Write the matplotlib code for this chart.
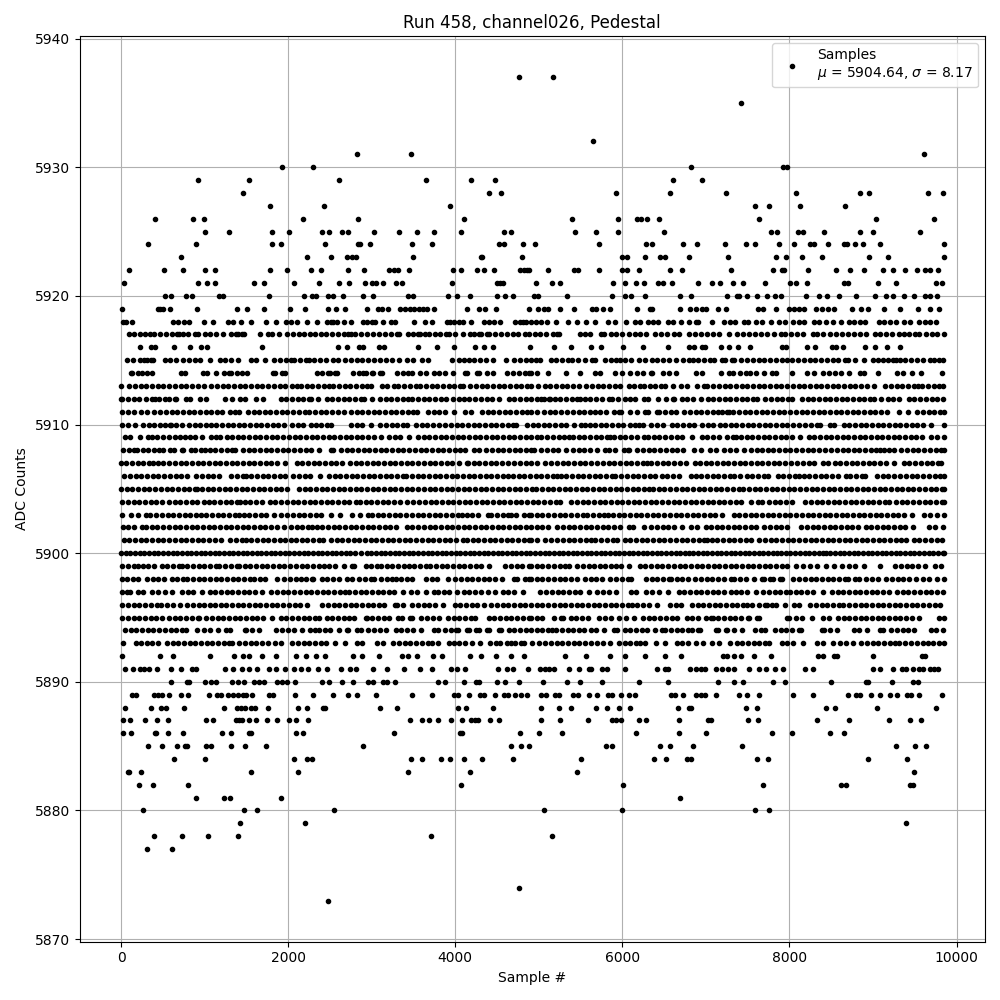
import matplotlib
matplotlib.use('Agg')
import matplotlib.pyplot as plt

# Номера отсчётов для каждого уровня ADC
s5937 = [4760, 5172]
s5935 = [7416]
s5932 = [5652]
s5931 = [2828, 3476, 9612]
s5930 = [1928, 2300, 6816, 7920, 7968]
s5929 = [920, 1532, 2612, 3644, 4184, 4472, 6600, 6948]
s5928 = [1460, 4400, 4544, 5928, 6564, 7236, 8076, 8844, 8952, 9660, 9840]
s5927 = [1784, 2432, 3932, 7584, 7752, 8124, 8664]
s5926 = [404, 860, 992, 2180, 2840, 4100, 5400, 5952, 6180, 6228, 6300, 6444, 7632, 9036, 9732]
s5925 = [1004, 1292, 1808, 2012, 2408, 2492, 2648, 2720, 3032, 3332, 3536, 3740, 4064, 4580, 4664, 5436, 5688, 5952, 6504, 7776, 7848, 8100, 8160, 8412, 8844, 9000, 9564]
s5924 = [320, 896, 1808, 1916, 2444, 2840, 2860, 2984, 3488, 3716, 4520, 4580, 4808, 4956, 5724, 6288, 6360, 6720, 6888, 7224, 7476, 7584, 7872, 8052, 8244, 8292, 8460, 8652, 8692, 8784, 8880, 9084, 9852]
s5923 = [716, 2228, 2516, 2708, 2768, 2816, 3500, 4304, 4324, 4796, 6000, 6052, 6276, 6456, 6516, 6792, 7260, 7836, 7956, 8148, 8388, 8952, 9180, 9850]
s5922 = [92, 512, 740, 1004, 1124, 1784, 1988, 2276, 2396, 2720, 2912, 3212, 3272, 3312, 3452, 3968, 4064, 4256, 4340, 4460, 4772, 4820, 4860, 4884, 5112, 5424, 5472, 5724, 6000, 6052, 6204, 6564, 6708, 7296, 7800, 7908, 7940, 8220, 8556, 8724, 8892, 9120, 9240, 9384, 9528, 9624, 9684, 9780]
s5921 = [32, 920, 1028, 1124, 1592, 1712, 2072, 2372, 2612, 2732, 2924, 3008, 3056, 3140, 3296, 3368, 3956, 4496, 4540, 4572, 4968, 5160, 5256, 5892, 6036, 6168, 6264, 6432, 6492, 6592, 6900, 7068, 7164, 7320, 7440, 7704, 8004, 8076, 8204, 8652, 8700, 9060, 9276, 9756, 9828]
s5920 = [524, 596, 776, 848, 1172, 1220, 1772, 2192, 2288, 2336, 2480, 2540, 2660, 2900, 3020, 3440, 3500, 3908, 4016, 4172, 4496, 4592, 4688, 4944, 4992, 5340, 5880, 6036, 6108, 6276, 6684, 6816, 7248, 7368, 7400, 7488, 7608, 7728, 7824, 7896, 8196, 8352, 8448, 8592, 8796, 9020, 9156, 9240, 9372, 9492, 9624, 9684, 9768]
s5919 = [8, 440, 472, 500, 584, 908, 1388, 1508, 1712, 2024, 2204, 2480, 2576, 2684, 2948, 3080, 3120, 3200, 3344, 3404, 3464, 3512, 3560, 3608, 3656, 3740, 4136, 4280, 4352, 4484, 4884, 4992, 5064, 5112, 5256, 5424, 5640, 5688, 5772, 5856, 6180, 6336, 6360, 6684, 6804, 6876, 6948, 6996, 7140, 7236, 7620, 7680, 7836, 7992, 8052, 8112, 8172, 8316, 8388, 8460, 8532, 8748, 8856, 8940, 9132, 9324, 9540, 9684, 9792]
s5918 = [20, 60, 128, 620, 680, 752, 812, 992, 1100, 1280, 1340, 1436, 1556, 1736, 1856, 1976, 2036, 2100, 2228, 2348, 2460, 2516, 2540, 2588, 2668, 2756, 2900, 2940, 3000, 3044, 3140, 3236, 3284, 3512, 3632, 3716, 3896, 3940, 3988, 4040, 4088, 4184, 4340, 4400, 4460, 4532, 4712, 4772, 4812, 4852, 4912, 4972, 5032, 5100, 5208, 5352, 5452, 5564, 5676, 5832, 5912, 6048, 6148, 6212, 6312, 6372, 6432, 6552, 6600, 6696, 6792, 6876, 6904, 7076, 7212, 7284, 7352, 7452, 7500, 7596, 7668, 7776, 7872, 7944, 8044, 8112, 8172, 8292, 8352, 8432, 8520, 8612, 8712, 8772, 8844, 8904, 9072, 9132, 9204, 9272, 9372, 9444, 9552, 9624, 9684, 9752]
s5917 = [100, 160, 224, 284, 344, 400, 472, 540, 608, 664, 692, 736, 800, 880, 916, 1000, 1068, 1136, 1224, 1320, 1372, 1404, 1448, 1472, 1668, 1756, 1808, 1896, 1992, 2060, 2128, 2188, 2260, 2320, 2388, 2452, 2520, 2596, 2668, 2720, 2752, 2800, 2872, 2940, 3016, 3084, 3156, 3228, 3300, 3330, 3432, 3496, 3552, 3576, 3632, 3688, 3752, 3816, 3884, 3928, 4000, 4096, 4180, 4228, 4280, 4308, 4380, 4408, 4480, 4548, 4620, 4692, 4756, 4832, 4888, 4960, 5020, 5084, 5164, 5220, 5240, 5488, 5552, 5616, 5740, 5776, 5860, 5928, 5996, 6076, 6148, 6216, 6284, 6388, 6468, 6540, 6612, 6680, 6796, 6868, 6940, 7012, 7088, 7160, 7276, 7368, 7440, 7512, 7592, 7664, 7736, 7820, 7896, 7948, 8020, 8092, 8160, 8284, 8332, 8404, 8480, 8556, 8628, 8700, 8772, 8840, 8916, 9020, 9088, 9160, 9232, 9316, 9368, 9436, 9500, 9556, 9628, 9700, 9768, 9850]
s5916 = [224, 364, 404, 636, 828, 952, 1024, 1692, 2600, 2704, 2844, 2896, 3084, 3144, 3552, 3780, 3984, 4232, 4344, 4452, 4892, 5180, 5388, 5628, 5748, 6012, 6252, 6552, 6792, 6852, 6952, 6992, 7176, 7272, 7380, 7524, 7912, 7964, 8208, 8304, 8512, 8552, 8640, 8904, 9024, 9168, 9324]
s5915 = [72, 140, 228, 280, 312, 360, 380, 520, 590, 660, 740, 808, 880, 950, 1068, 1180, 1250, 1320, 1396, 1552, 1620, 1728, 1828, 1900, 1970, 2030, 2072, 2140, 2210, 2250, 2312, 2380, 2450, 2536, 2600, 2680, 2750, 2820, 2888, 2960, 3030, 3100, 3170, 3240, 3330, 3420, 3490, 3600, 3668, 3960, 4048, 4100, 4160, 4224, 4296, 4370, 4448, 4612, 4708, 4776, 4850, 4908, 4970, 5016, 5140, 5210, 5280, 5350, 5396, 5468, 5556, 5636, 5676, 5796, 5860, 5920, 5976, 6028, 6100, 6196, 6276, 6350, 6420, 6490, 6560, 6640, 6720, 6796, 6840, 6910, 6980, 7050, 7096, 7196, 7228, 7308, 7336, 7420, 7490, 7560, 7630, 7700, 7770, 7840, 7910, 7976, 8028, 8100, 8170, 8240, 8310, 8380, 8450, 8520, 8576, 8668, 8696, 8780, 8896, 8996, 9060, 9124, 9180, 9236, 9276, 9324, 9388, 9456, 9528, 9596, 9676, 9724, 9788, 9836]
s5914 = [120, 136, 208, 248, 312, 368, 712, 768, 980, 1028, 1132, 1228, 1288, 1316, 1392, 1450, 1508, 1816, 1840, 1932, 1968, 2340, 2408, 2480, 2496, 2560, 2588, 2780, 2848, 2900, 2928, 3000, 3020, 3100, 3120, 3300, 3370, 3440, 3488, 3580, 3650, 3748, 3808, 3880, 3968, 4120, 4136, 4260, 4288, 4380, 4448, 4620, 4690, 4760, 4830, 4888, 4908, 4976, 5112, 5328, 5496, 5668, 5736, 5908, 5996, 6088, 6176, 6252, 6340, 6356, 6488, 6556, 6644, 6876, 6948, 7184, 7276, 7324, 7412, 7484, 7532, 7596, 7696, 7788, 7836, 8028, 8212, 8288, 8396, 8468, 8540, 8616, 8712, 8848, 8888, 9064, 9288, 9356, 9468, 9576, 9820]
s5913 = [0, 100, 168, 236, 304, 372, 440, 508, 576, 644, 712, 780, 848, 916, 988, 1080, 1148, 1216, 1284, 1352, 1420, 1488, 1556, 1624, 1692, 1760, 1828, 1908, 1960, 2040, 2108, 2152, 2220, 2288, 2356, 2424, 2488, 2540, 2608, 2676, 2744, 2812, 2888, 2940, 2988, 3120, 3188, 3268, 3320, 3388, 3456, 3528, 3580, 3648, 3716, 3784, 3852, 3920, 3988, 4056, 4090, 4180, 4248, 4316, 4384, 4452, 4520, 4588, 4656, 4724, 4792, 4860, 4908, 4996, 5068, 5136, 5204, 5272, 5340, 5408, 5476, 5568, 5636, 5704, 5772, 5840, 5908, 5976, 6076, 6144, 6212, 6256, 6328, 6396, 6464, 6516, 6608, 6696, 6768, 6896, 6980, 7016, 7088, 7156, 7224, 7292, 7360, 7428, 7496, 7564, 7632, 7700, 7768, 7836, 7904, 7972, 8040, 8108, 8176, 8244, 8312, 8380, 8448, 8516, 8584, 8652, 8720, 8788, 8856, 8924, 9016, 9148, 9216, 9284, 9352, 9420, 9488, 9536, 9588, 9656, 9724, 9792, 9840]
s5912 = [0, 12, 88, 156, 216, 300, 368, 408, 460, 528, 568, 640, 656, 780, 828, 948, 1016, 1248, 1328, 1420, 1480, 1620, 1696, 1912, 1980, 2048, 2112, 2176, 2248, 2268, 2352, 2468, 2528, 2596, 2664, 2732, 2800, 2868, 2908, 3000, 3096, 3168, 3236, 3304, 3372, 3440, 3480, 3552, 3620, 3688, 3756, 3824, 3892, 3968, 4040, 4108, 4168, 4240, 4308, 4376, 4444, 4520, 4640, 4708, 4776, 4844, 4908, 4984, 5028, 5056, 5116, 5136, 5188, 5256, 5324, 5392, 5460, 5496, 5548, 5616, 5684, 5752, 5836, 5880, 5948, 6036, 6088, 6156, 6256, 6312, 6428, 6524, 6608, 6616, 6708, 6776, 6844, 6936, 7020, 7088, 7156, 7224, 7292, 7360, 7428, 7496, 7564, 7616, 7704, 7780, 7848, 7916, 7984, 8036, 8148, 8216, 8284, 8352, 8420, 8488, 8556, 8624, 8692, 8760, 8828, 8896, 8964, 9016, 9092, 9180, 9236, 9312, 9428, 9496, 9564, 9632, 9700, 9768, 9836]
s5911 = [16, 84, 160, 240, 308, 400, 468, 536, 604, 672, 740, 808, 876, 944, 1012, 1080, 1148, 1208, 1300, 1368, 1416, 1520, 1588, 1648, 1720, 1788, 1856, 1924, 1992, 2060, 2128, 2196, 2248, 2320, 2388, 2456, 2524, 2592, 2668, 2752, 2820, 2888, 2956, 3024, 3092, 3160, 3228, 3296, 3364, 3432, 3500, 3540, 3672, 3740, 3808, 3876, 3988, 4120, 4188, 4320, 4388, 4456, 4524, 4592, 4660, 4728, 4796, 4864, 4908, 4976, 5056, 5128, 5196, 5268, 5336, 5408, 5476, 5544, 5616, 5668, 5736, 5804, 5896, 5956, 5988, 6088, 6176, 6276, 6308, 6420, 6444, 6508, 6576, 6636, 6740, 6808, 6876, 6944, 7012, 7080, 7148, 7188, 7248, 7276, 7328, 7396, 7464, 7532, 7600, 7668, 7736, 7804, 7872, 7940, 8008, 8076, 8144, 8212, 8280, 8348, 8416, 8484, 8552, 8620, 8688, 8756, 8824, 8892, 8960, 9028, 9096, 9164, 9308, 9416, 9528, 9596, 9664, 9732, 9800, 9850]
s5910 = [16, 84, 168, 268, 336, 400, 468, 528, 580, 600, 660, 728, 808, 880, 948, 1016, 1080, 1140, 1208, 1276, 1336, 1408, 1476, 1544, 1612, 1680, 1748, 1816, 1884, 1952, 2048, 2112, 2180, 2268, 2328, 2396, 2464, 2508, 2752, 2820, 2888, 2988, 3104, 3172, 3240, 3308, 3376, 3428, 3528, 3596, 3664, 3732, 3808, 3880, 3948, 4016, 4084, 4152, 4220, 4288, 4356, 4424, 4492, 4560, 4628, 4696, 4728, 4860, 4928, 4988, 5056, 5124, 5192, 5260, 5328, 5416, 5508, 5548, 5608, 5676, 5740, 5808, 5876, 5944, 6012, 6096, 6156, 6196, 6248, 6348, 6420, 6484, 6588, 6656, 6724, 6792, 6860, 6956, 7020, 7088, 7164, 7228, 7296, 7364, 7432, 7500, 7568, 7636, 7704, 7772, 7840, 7908, 7976, 8044, 8116, 8188, 8256, 8324, 8368, 8488, 8536, 8648, 8716, 8784, 8852, 8920, 8988, 9056, 9124, 9192, 9260, 9328, 9396, 9464, 9532, 9600, 9696, 9850]
s5909 = [48, 108, 232, 320, 368, 436, 504, 572, 640, 708, 760, 820, 888, 968, 1072, 1140, 1188, 1264, 1328, 1396, 1464, 1532, 1600, 1668, 1736, 1804, 1872, 1940, 2008, 2076, 2144, 2212, 2280, 2348, 2416, 2484, 2552, 2620, 2688, 2756, 2828, 2888, 2956, 3024, 3108, 3208, 3276, 3344, 3448, 3552, 3620, 3688, 3756, 3824, 3892, 3960, 4028, 4096, 4164, 4232, 4300, 4368, 4436, 4504, 4572, 4640, 4708, 4776, 4844, 4908, 4976, 5028, 5100, 5168, 5236, 5304, 5356, 5408, 5476, 5544, 5612, 5680, 5748, 5816, 5856, 5900, 5968, 6036, 6104, 6172, 6256, 6308, 6376, 6444, 6512, 6580, 6648, 6716, 6828, 6948, 7016, 7084, 7152, 7256, 7328, 7356, 7420, 7488, 7556, 7624, 7692, 7760, 7828, 7896, 7964, 8032, 8128, 8228, 8296, 8364, 8432, 8500, 8568, 8636, 8704, 8772, 8840, 8908, 8976, 9044, 9112, 9180, 9248, 9316, 9384, 9452, 9520, 9588, 9696, 9768, 9850]
s5908 = [20, 96, 160, 188, 260, 328, 392, 460, 508, 580, 628, 728, 736, 832, 888, 952, 1008, 1060, 1128, 1196, 1264, 1332, 1368, 1460, 1528, 1596, 1664, 1732, 1800, 1868, 1936, 2004, 2072, 2140, 2208, 2268, 2368, 2512, 2536, 2632, 2700, 2768, 2836, 2904, 2972, 3040, 3108, 3176, 3244, 3312, 3380, 3448, 3516, 3584, 3652, 3720, 3788, 3856, 3924, 3992, 4060, 4120, 4220, 4288, 4368, 4440, 4508, 4576, 4644, 4712, 4780, 4848, 4908, 4948, 5028, 5096, 5164, 5232, 5324, 5408, 5476, 5544, 5612, 5696, 5796, 5836, 5908, 6016, 6068, 6084, 6180, 6248, 6316, 6384, 6452, 6520, 6588, 6656, 6724, 6856, 6940, 7048, 7116, 7216, 7288, 7356, 7456, 7540, 7608, 7676, 7740, 7808, 7876, 7944, 8012, 8080, 8148, 8216, 8284, 8352, 8420, 8496, 8568, 8636, 8700, 8768, 8836, 8904, 8972, 9036, 9084, 9128, 9196, 9256, 9340, 9408, 9476, 9544, 9612, 9680, 9748, 9816, 9850]
s5907 = [0, 64, 132, 200, 268, 336, 388, 440, 508, 576, 644, 712, 780, 848, 916, 984, 1052, 1120, 1188, 1256, 1324, 1392, 1460, 1528, 1596, 1664, 1732, 1800, 1868, 1968, 2100, 2168, 2236, 2304, 2372, 2440, 2508, 2576, 2648, 2740, 2808, 2876, 2944, 3012, 3080, 3148, 3216, 3284, 3352, 3420, 3488, 3556, 3624, 3692, 3760, 3828, 3896, 3964, 4048, 4140, 4148, 4220, 4288, 4356, 4424, 4492, 4560, 4628, 4708, 4780, 4848, 4908, 4976, 5076, 5148, 5216, 5284, 5352, 5420, 5488, 5556, 5624, 5696, 5768, 5836, 5904, 5972, 6040, 6108, 6176, 6244, 6296, 6348, 6416, 6484, 6552, 6620, 6688, 6756, 6868, 6928, 6996, 7064, 7132, 7200, 7268, 7336, 7404, 7472, 7540, 7608, 7676, 7744, 7812, 7880, 7948, 8016, 8084, 8156, 8228, 8296, 8404, 8464, 8540, 8608, 8676, 8744, 8812, 8880, 8948, 9016, 9084, 9152, 9256, 9368, 9436, 9504, 9572, 9640, 9708, 9776, 9816]
s5906 = [40, 108, 176, 244, 312, 380, 448, 516, 584, 652, 720, 788, 900, 968, 1036, 1104, 1176, 1320, 1388, 1456, 1496, 1560, 1628, 1696, 1764, 1832, 1900, 1968, 2060, 2128, 2196, 2264, 2376, 2488, 2556, 2624, 2692, 2760, 2828, 2896, 2964, 3032, 3100, 3168, 3236, 3304, 3372, 3408, 3480, 3548, 3616, 3684, 3752, 3820, 3888, 3956, 4024, 4092, 4160, 4228, 4296, 4364, 4432, 4500, 4568, 4636, 4688, 4760, 4828, 4896, 4964, 5032, 5100, 5168, 5216, 5260, 5328, 5396, 5464, 5532, 5600, 5668, 5736, 5804, 5872, 5916, 5988, 6056, 6124, 6192, 6260, 6328, 6396, 6476, 6540, 6608, 6676, 6816, 6876, 6944, 7012, 7080, 7148, 7216, 7284, 7336, 7408, 7488, 7556, 7624, 7692, 7748, 7860, 7928, 7996, 8064, 8108, 8168, 8236, 8304, 8372, 8440, 8508, 8576, 8676, 8728, 8796, 8864, 8908, 9048, 9116, 9184, 9252, 9324, 9396, 9464, 9532, 9600, 9668, 9736, 9804, 9850]
s5905 = [0, 68, 136, 204, 272, 340, 408, 476, 544, 612, 680, 748, 816, 884, 908, 968, 1036, 1104, 1172, 1240, 1308, 1376, 1444, 1512, 1580, 1648, 1716, 1784, 1852, 1920, 1988, 2128, 2196, 2264, 2332, 2400, 2468, 2536, 2604, 2672, 2740, 2808, 2876, 2944, 3012, 3080, 3148, 3216, 3284, 3352, 3420, 3488, 3556, 3624, 3692, 3760, 3828, 3896, 3964, 4032, 4100, 4168, 4236, 4304, 4372, 4440, 4508, 4576, 4644, 4712, 4780, 4848, 4916, 4968, 5036, 5104, 5172, 5240, 5308, 5376, 5444, 5512, 5580, 5648, 5716, 5784, 5852, 5920, 5988, 6056, 6124, 6192, 6260, 6316, 6368, 6436, 6504, 6572, 6640, 6708, 6776, 6844, 6912, 6980, 7048, 7116, 7184, 7252, 7320, 7396, 7448, 7516, 7584, 7652, 7720, 7788, 7856, 7924, 7992, 8060, 8128, 8196, 8264, 8332, 8400, 8468, 8536, 8604, 8672, 8740, 8808, 8876, 8944, 9012, 9080, 9148, 9216, 9284, 9348, 9416, 9484, 9552, 9620, 9688, 9756, 9824, 9850]
s5904 = [16, 84, 152, 220, 288, 356, 424, 492, 576, 640, 708, 776, 844, 912, 988, 1048, 1116, 1184, 1252, 1320, 1388, 1428, 1480, 1548, 1616, 1688, 1780, 1848, 1916, 1984, 2052, 2120, 2188, 2256, 2324, 2392, 2460, 2528, 2596, 2664, 2732, 2808, 2860, 2928, 2996, 3064, 3132, 3200, 3268, 3336, 3428, 3500, 3568, 3636, 3704, 3772, 3840, 3908, 3976, 4044, 4112, 4180, 4248, 4316, 4384, 4452, 4520, 4588, 4656, 4724, 4792, 4860, 4928, 4996, 5064, 5132, 5200, 5256, 5388, 5456, 5524, 5592, 5660, 5728, 5796, 5864, 5932, 6000, 6068, 6136, 6204, 6272, 6340, 6408, 6476, 6544, 6612, 6680, 6748, 6816, 6884, 6952, 7020, 7088, 7156, 7216, 7288, 7356, 7424, 7536, 7628, 7668, 7756, 7824, 7892, 7960, 8036, 8188, 8256, 8324, 8392, 8460, 8528, 8596, 8664, 8732, 8800, 8868, 8936, 9004, 9072, 9140, 9196, 9276, 9344, 9412, 9480, 9548, 9616, 9684, 9752, 9820, 9850]
s5903 = [16, 120, 200, 296, 352, 420, 488, 556, 624, 692, 760, 828, 896, 952, 1020, 1088, 1156, 1224, 1292, 1360, 1408, 1468, 1536, 1604, 1672, 1740, 1828, 1920, 1988, 2056, 2124, 2192, 2260, 2328, 2392, 2508, 2620, 2760, 2860, 2960, 3008, 3072, 3140, 3208, 3276, 3344, 3412, 3480, 3548, 3616, 3684, 3752, 3820, 3888, 3956, 4028, 4080, 4136, 4200, 4268, 4388, 4432, 4500, 4568, 4636, 4668, 4732, 4820, 4888, 4908, 4976, 5044, 5112, 5180, 5248, 5316, 5384, 5452, 5524, 5580, 5648, 5716, 5784, 5828, 5888, 5956, 6024, 6092, 6160, 6228, 6296, 6364, 6432, 6500, 6568, 6636, 6704, 6772, 6840, 6908, 6976, 7044, 7112, 7196, 7340, 7396, 7468, 7536, 7604, 7672, 7740, 7808, 7876, 7944, 8012, 8080, 8148, 8216, 8284, 8352, 8420, 8488, 8556, 8624, 8692, 8760, 8828, 8896, 8964, 9032, 9100, 9168, 9236, 9304, 9372, 9468, 9608, 9676, 9768, 9850]
s5902 = [20, 88, 156, 248, 300, 368, 436, 504, 572, 640, 708, 776, 844, 912, 980, 1048, 1116, 1184, 1252, 1320, 1388, 1456, 1524, 1592, 1660, 1728, 1796, 1864, 1948, 2032, 2100, 2168, 2236, 2288, 2340, 2408, 2476, 2544, 2612, 2680, 2748, 2816, 2884, 2952, 3020, 3088, 3156, 3224, 3296, 3420, 3488, 3556, 3624, 3692, 3760, 3828, 3896, 3964, 4032, 4100, 4168, 4236, 4304, 4372, 4440, 4508, 4576, 4644, 4712, 4780, 4848, 4908, 4976, 5044, 5112, 5216, 5288, 5356, 5424, 5492, 5560, 5628, 5696, 5764, 5832, 5900, 5968, 6076, 6128, 6256, 6348, 6416, 6484, 6552, 6620, 6716, 6820, 6888, 6996, 7060, 7128, 7196, 7264, 7332, 7400, 7468, 7536, 7604, 7696, 7768, 7836, 7904, 7976, 8140, 8208, 8276, 8344, 8412, 8480, 8548, 8616, 8684, 8752, 8816, 8920, 8976, 9048, 9116, 9184, 9252, 9320, 9388, 9476, 9668, 9736, 9836]
s5901 = [40, 96, 168, 236, 304, 372, 440, 508, 576, 644, 712, 780, 848, 916, 984, 1052, 1120, 1200, 1308, 1376, 1444, 1496, 1560, 1628, 1696, 1764, 1832, 1900, 1968, 2036, 2096, 2160, 2228, 2296, 2364, 2416, 2508, 2580, 2648, 2716, 2784, 2852, 2920, 2988, 3056, 3124, 3192, 3260, 3328, 3396, 3464, 3532, 3600, 3668, 3736, 3804, 3872, 3940, 4008, 4088, 4140, 4208, 4276, 4344, 4412, 4480, 4548, 4616, 4684, 4752, 4820, 4888, 4908, 4976, 5068, 5140, 5220, 5288, 5356, 5424, 5492, 5560, 5628, 5676, 5748, 5816, 5884, 5940, 6028, 6096, 6164, 6232, 6300, 6368, 6436, 6504, 6572, 6640, 6708, 6776, 6844, 6912, 6980, 7016, 7068, 7136, 7204, 7272, 7340, 7408, 7476, 7544, 7636, 7708, 7776, 7844, 7912, 7980, 8048, 8116, 8184, 8252, 8320, 8388, 8456, 8524, 8592, 8660, 8728, 8796, 8864, 8932, 9000, 9068, 9136, 9204, 9272, 9340, 9396, 9488, 9556, 9624, 9692, 9760, 9828]
s5900 = [0, 56, 112, 168, 224, 280, 336, 392, 448, 504, 560, 616, 672, 728, 784, 840, 896, 952, 1008, 1064, 1120, 1176, 1232, 1288, 1344, 1400, 1456, 1512, 1568, 1624, 1680, 1736, 1792, 1848, 1904, 1960, 2016, 2072, 2128, 2184, 2240, 2296, 2352, 2408, 2464, 2520, 2576, 2632, 2688, 2744, 2800, 2868, 2940, 2996, 3052, 3108, 3164, 3220, 3276, 3332, 3388, 3444, 3500, 3556, 3612, 3668, 3724, 3780, 3836, 3892, 3948, 4004, 4060, 4116, 4172, 4228, 4284, 4340, 4396, 4452, 4508, 4564, 4620, 4676, 4732, 4788, 4844, 4900, 4956, 5012, 5068, 5124, 5180, 5236, 5292, 5348, 5404, 5460, 5516, 5572, 5628, 5684, 5740, 5796, 5852, 5908, 5964, 6020, 6076, 6132, 6188, 6244, 6300, 6356, 6412, 6468, 6524, 6580, 6636, 6692, 6748, 6796, 6848, 6904, 6960, 7016, 7072, 7128, 7184, 7240, 7296, 7352, 7408, 7464, 7520, 7576, 7632, 7688, 7744, 7800, 7856, 7896, 7956, 8012, 8068, 8124, 8180, 8236, 8292, 8348, 8404, 8436, 8488, 8544, 8600, 8656, 8712, 8768, 8824, 8880, 8936, 8992, 9048, 9104, 9160, 9216, 9272, 9328, 9384, 9440, 9496, 9552, 9608, 9664, 9720, 9776, 9832, 9850]
s5899 = [16, 84, 152, 200, 260, 328, 396, 488, 552, 620, 688, 728, 792, 860, 928, 996, 1064, 1132, 1168, 1248, 1316, 1384, 1416, 1480, 1548, 1616, 1684, 1752, 1820, 1888, 1956, 2024, 2092, 2160, 2228, 2296, 2364, 2432, 2488, 2560, 2668, 2768, 2788, 2928, 2996, 3064, 3108, 3180, 3248, 3316, 3384, 3448, 3512, 3580, 3648, 3696, 3768, 3836, 3904, 3972, 4040, 4108, 4176, 4244, 4312, 4408, 4600, 4668, 4736, 4804, 4888, 4908, 4976, 5044, 5112, 5180, 5248, 5316, 5356, 5460, 5528, 5596, 5664, 5736, 5796, 5864, 5924, 5988, 6084, 6208, 6276, 6344, 6412, 6480, 6548, 6616, 6684, 6752, 6820, 6888, 6956, 7024, 7092, 7160, 7228, 7296, 7364, 7432, 7500, 7568, 7636, 7704, 7772, 7840, 7908, 7976, 8076, 8164, 8244, 8332, 8436, 8536, 8628, 8708, 8780, 8896, 9084, 9268, 9336, 9404, 9472, 9536, 9620, 9740, 9816]
s5898 = [16, 68, 140, 208, 308, 380, 448, 516, 608, 672, 740, 788, 860, 928, 996, 1064, 1132, 1200, 1268, 1336, 1404, 1472, 1540, 1588, 1660, 1728, 1868, 1952, 2020, 2088, 2156, 2208, 2280, 2296, 2400, 2468, 2536, 2608, 2700, 2768, 2848, 2920, 2988, 3028, 3112, 3180, 3248, 3288, 3352, 3420, 3480, 3648, 3716, 3784, 3908, 4000, 4068, 4136, 4204, 4272, 4340, 4408, 4476, 4560, 4700, 4736, 4840, 4888, 4908, 4976, 5044, 5112, 5180, 5248, 5316, 5384, 5452, 5556, 5620, 5688, 5756, 5856, 5928, 5996, 6064, 6108, 6288, 6356, 6420, 6484, 6556, 6576, 6648, 6716, 6784, 6868, 6940, 7008, 7076, 7144, 7212, 7296, 7340, 7408, 7476, 7576, 7668, 7696, 7772, 7804, 7888, 7908, 8048, 8116, 8184, 8252, 8320, 8388, 8456, 8524, 8592, 8660, 8696, 8780, 8836, 8920, 8988, 9056, 9156, 9228, 9296, 9364, 9432, 9516, 9596, 9664, 9764, 9848]
s5897 = [8, 72, 108, 200, 268, 368, 448, 520, 608, 728, 796, 864, 968, 1060, 1128, 1196, 1264, 1332, 1400, 1468, 1536, 1604, 1688, 1800, 1868, 1936, 2004, 2072, 2140, 2208, 2276, 2344, 2412, 2480, 2548, 2616, 2684, 2728, 2800, 2868, 2936, 3004, 3072, 3140, 3208, 3268, 3374, 3472, 3540, 3648, 3740, 3788, 3860, 3928, 4016, 4100, 4168, 4236, 4308, 4388, 4470, 4568, 4636, 4704, 4808, 5020, 5088, 5156, 5224, 5292, 5360, 5428, 5496, 5596, 5700, 5768, 5836, 5924, 6100, 6164, 6288, 6356, 6444, 6542, 6676, 6736, 6808, 6876, 6944, 7012, 7080, 7148, 7216, 7296, 7356, 7424, 7492, 7596, 7688, 7756, 7824, 7892, 7964, 8004, 8072, 8140, 8208, 8276, 8396, 8508, 8576, 8644, 8712, 8780, 8848, 8916, 8984, 9052, 9116, 9192, 9288, 9356, 9424, 9492, 9560, 9628, 9696, 9764, 9832]
s5896 = [16, 84, 152, 220, 288, 356, 428, 480, 548, 616, 708, 792, 860, 928, 996, 1068, 1124, 1192, 1260, 1328, 1396, 1464, 1532, 1600, 1668, 1736, 1804, 1872, 1940, 2008, 2076, 2144, 2228, 2408, 2476, 2544, 2612, 2680, 2748, 2816, 2888, 2952, 3020, 3088, 3148, 3280, 3308, 3380, 3488, 3552, 3620, 3688, 3756, 3848, 3992, 4060, 4128, 4196, 4264, 4348, 4432, 4500, 4568, 4636, 4704, 4772, 4840, 4908, 4976, 5044, 5112, 5180, 5248, 5316, 5384, 5452, 5520, 5588, 5656, 5724, 5792, 5860, 5928, 5996, 6064, 6116, 6180, 6248, 6316, 6416, 6568, 6636, 6704, 6836, 6900, 6968, 7036, 7104, 7172, 7240, 7308, 7376, 7444, 7496, 7556, 7636, 7708, 7736, 7788, 7844, 7948, 8056, 8112, 8248, 8316, 8384, 8452, 8520, 8588, 8636, 8716, 8784, 8852, 8920, 8988, 9056, 9124, 9192, 9260, 9328, 9396, 9464, 9532, 9600, 9668, 9736, 9796]
s5895 = [16, 84, 152, 220, 288, 356, 424, 492, 568, 640, 708, 776, 848, 920, 928, 1020, 1088, 1156, 1224, 1292, 1360, 1428, 1496, 1564, 1632, 1700, 1808, 1912, 1980, 2048, 2116, 2184, 2252, 2320, 2368, 2460, 2528, 2596, 2664, 2732, 2788, 2928, 2948, 3008, 3076, 3144, 3208, 3320, 3368, 3460, 3488, 3592, 3660, 3728, 3808, 3912, 3980, 4048, 4116, 4184, 4240, 4400, 4468, 4536, 4604, 4672, 4740, 4808, 4888, 4908, 4976, 5044, 5176, 5260, 5292, 5380, 5448, 5516, 5584, 5716, 5796, 5864, 5956, 6040, 6136, 6248, 6316, 6384, 6452, 6520, 6588, 6656, 6768, 6836, 6904, 6996, 7060, 7088, 7148, 7216, 7284, 7352, 7416, 7500, 7516, 7608, 7636, 7968, 7996, 8080, 8148, 8268, 8400, 8468, 8580, 8648, 8716, 8784, 8852, 8920, 8988, 9056, 9124, 9192, 9260, 9328, 9396, 9464, 9556, 9788, 9850]
s5894 = [48, 116, 184, 252, 320, 388, 456, 524, 592, 660, 728, 776, 912, 988, 1060, 1160, 1260, 1308, 1480, 1496, 1568, 1648, 1860, 1928, 1996, 2064, 2160, 2260, 2320, 2368, 2436, 2504, 2608, 2700, 2720, 2820, 2868, 2960, 3028, 3096, 3168, 3288, 3356, 3424, 3492, 3588, 3740, 3788, 3880, 3948, 4008, 4028, 4140, 4168, 4248, 4288, 4380, 4408, 4520, 4548, 4640, 4708, 4776, 4844, 4908, 4976, 5044, 5112, 5156, 5208, 5276, 5344, 5412, 5480, 5536, 5620, 5688, 5776, 5900, 5936, 6028, 6096, 6164, 6232, 6300, 6396, 6476, 6508, 6580, 6648, 6716, 6784, 6836, 6900, 6924, 7116, 7148, 7236, 7256, 7340, 7436, 7588, 7656, 7708, 7828, 7896, 7964, 8036, 8108, 8136, 8388, 8416, 8488, 8564, 8768, 8836, 8924, 9088, 9116, 9220, 9288, 9356, 9424, 9496, 9688, 9756, 9836]
s5893 = [20, 176, 244, 308, 376, 444, 544, 616, 684, 752, 820, 888, 956, 1024, 1092, 1160, 1228, 1296, 1324, 1416, 1484, 1552, 1620, 1688, 1756, 1844, 1916, 2044, 2116, 2184, 2252, 2320, 2388, 2456, 2564, 2676, 2824, 2880, 3068, 3140, 3256, 3324, 3396, 3464, 3532, 3600, 3668, 3724, 3796, 3924, 3988, 4044, 4116, 4196, 4300, 4416, 4484, 4536, 4616, 4664, 4716, 4784, 4824, 4924, 5008, 5076, 5144, 5212, 5280, 5348, 5416, 5484, 5552, 5620, 5696, 5764, 5848, 5956, 6028, 6096, 6164, 6216, 6276, 6408, 6516, 6648, 6716, 6784, 6876, 6968, 7068, 7156, 7284, 7368, 7436, 7504, 7572, 7640, 7708, 7756, 7908, 7976, 8044, 8156, 8328, 8396, 8516, 8608, 8676, 8756, 8860, 8928, 8996, 9064, 9132, 9200, 9268, 9316, 9388, 9456, 9524, 9592, 9656, 9716, 9784, 9850]
s5892 = [8, 464, 620, 1064, 1352, 1460, 1532, 1688, 1852, 2096, 2216, 2336, 2444, 2780, 2888, 3092, 3368, 3440, 3536, 3728, 3836, 4172, 4304, 4484, 4664, 4820, 5316, 5568, 5856, 6036, 6276, 6516, 6696, 7200, 7248, 7332, 7416, 7572, 7776, 8340, 8400, 8532, 8568, 9000, 9588, 9624]
s5891 = [44, 140, 224, 272, 332, 428, 596, 720, 848, 896, 1244, 1340, 1448, 1532, 1628, 1772, 1856, 1964, 2072, 2156, 2240, 2360, 2468, 2636, 2744, 2816, 3020, 3188, 3392, 3572, 3716, 3944, 4016, 4112, 4508, 4616, 4688, 4868, 5016, 5076, 5124, 5184, 5364, 5484, 5604, 5628, 5760, 5820, 6036, 6420, 6516, 6552, 6804, 6876, 6936, 6984, 7116, 7188, 7260, 7332, 7512, 7632, 7716, 7824, 7920, 8184, 8280, 9000, 9084, 9240, 9348, 9396, 9480, 9552, 9600, 9684, 9732, 9780]
s5890 = [596, 788, 812, 1004, 1076, 1136, 1328, 1400, 1472, 1592, 1652, 1712, 1868, 1928, 1988, 2084, 2408, 2492, 2648, 2780, 2960, 3020, 3140, 3188, 3284, 3788, 3872, 4100, 4244, 4280, 4496, 4592, 4760, 5052, 5340, 5496, 5760, 6204, 6552, 7140, 7332, 7440, 7800, 7944, 8496, 8916, 8940, 9228, 9480, 9540]
s5889 = [128, 180, 392, 440, 488, 572, 716, 800, 1052, 1148, 1196, 1280, 1340, 1400, 1460, 1500, 1568, 1772, 1820, 2080, 2300, 2536, 2720, 2828, 3048, 3488, 3716, 3980, 4028, 4160, 4292, 4340, 4472, 4580, 4628, 4712, 4788, 4860, 5028, 5088, 5196, 5244, 5412, 5472, 5604, 5700, 5832, 5880, 5988, 6084, 6156, 6576, 6624, 6720, 6876, 6936, 6984, 7116, 7392, 7492, 7632, 8040, 8280, 8700, 8796, 8844, 8976, 9084, 9204, 9288, 9408, 9460, 9552, 9828]
s5888 = [44, 356, 476, 536, 752, 1232, 1388, 1436, 1484, 1556, 1604, 1760, 2120, 2228, 2420, 2444, 3104, 3308, 4028, 4124, 4448, 5028, 5244, 5388, 5688, 5820, 5964, 6096, 6660, 6792, 6816, 7476, 7608, 8436, 8544, 9048, 9756]
s5887 = [20, 104, 284, 428, 560, 1016, 1100, 1376, 1412, 1448, 1532, 1616, 1748, 1868, 2012, 2096, 2240, 3464, 3596, 3680, 3788, 3944, 4076, 4184, 4232, 4268, 4412, 4520, 5028, 5256, 5592, 5880, 5928, 5988, 6204, 6288, 6672, 7020, 7056, 7500, 7620, 8328, 8712, 9192, 9444, 9576]
s5886 = [20, 116, 404, 420, 560, 740, 1208, 1316, 1532, 1552, 2096, 2180, 3272, 4052, 4076, 4772, 5004, 5280, 6168, 6672, 6996, 7788, 8028, 8484, 8652]
s5885 = [320, 488, 668, 764, 788, 1016, 1076, 1316, 1484, 1736, 2900, 4664, 4792, 4884, 5808, 5880, 6456, 6564, 6840, 7428, 9276, 9504, 9636]
s5884 = [632, 1004, 2072, 2228, 2288, 3476, 3596, 3824, 3932, 4100, 4316, 4688, 5508, 6384, 6528, 6768, 6816, 7608, 7740, 8940, 9408]
s5883 = [80, 100, 236, 1556, 2120, 3440, 4172, 5460, 9492]
s5882 = [212, 380, 800, 4064, 6012, 7680, 8616, 8676, 9444, 9476]
s5881 = [896, 1232, 1304, 1916, 6684]
s5880 = [260, 1472, 1628, 2552, 5064, 6000, 7584, 7752]
s5879 = [1424, 2204, 9396]
s5878 = [392, 728, 1040, 1400, 3704, 5160]
s5877 = [308, 608]
s5874 = [4760]
s5873 = [2480]

levels = {5937: s5937, 5935: s5935, 5932: s5932, 5931: s5931, 5930: s5930, 5929: s5929, 5928: s5928,
          5927: s5927, 5926: s5926, 5925: s5925, 5924: s5924, 5923: s5923, 5922: s5922, 5921: s5921,
          5920: s5920, 5919: s5919, 5918: s5918, 5917: s5917, 5916: s5916, 5915: s5915, 5914: s5914,
          5913: s5913, 5912: s5912, 5911: s5911, 5910: s5910, 5909: s5909, 5908: s5908, 5907: s5907,
          5906: s5906, 5905: s5905, 5904: s5904, 5903: s5903, 5902: s5902, 5901: s5901, 5900: s5900,
          5899: s5899, 5898: s5898, 5897: s5897, 5896: s5896, 5895: s5895, 5894: s5894, 5893: s5893,
          5892: s5892, 5891: s5891, 5890: s5890, 5889: s5889, 5888: s5888, 5887: s5887, 5886: s5886,
          5885: s5885, 5884: s5884, 5883: s5883, 5882: s5882, 5881: s5881, 5880: s5880, 5879: s5879,
          5878: s5878, 5877: s5877, 5874: s5874, 5873: s5873}

x = []
y = []
for level, samples in levels.items():
    x += samples
    y += [level] * len(samples)

plt.figure(figsize=(10, 10))
plt.plot(x, y, 'k.', label='Samples\n$\\mu$ = 5904.64, $\\sigma$ = 8.17')
plt.xlabel('Sample #')
plt.ylabel('ADC Counts')
plt.title('Run 458, channel026, Pedestal')
plt.xlim(-497, 10340)
plt.legend(loc='upper right')
plt.grid(True)
plt.tight_layout()
plt.subplots_adjust(top=0.964)
plt.savefig('out.png', dpi=100)
